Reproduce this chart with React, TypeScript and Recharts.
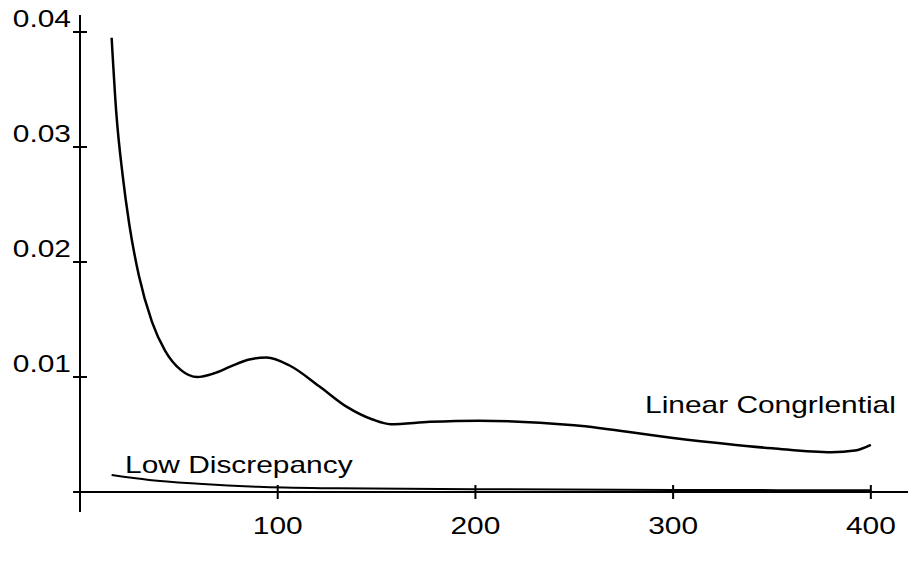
import React from 'react';
import { LineChart, Line, XAxis, YAxis, ReferenceLine, ReferenceDot } from 'recharts';

// Linear congruential error curve (x, y)
const lcgX = [16, 18.3, 21.6, 24.9, 29.8, 36.4, 43, 51.1, 59.3, 67.5, 76, 85, 94.4, 106, 121, 135, 148, 157, 177, 202, 250, 300, 350, 380, 392, 400];
const lcgY = [0.0395, 0.0331, 0.0275, 0.0233, 0.0188, 0.0148, 0.0123, 0.0106, 0.01, 0.0103, 0.0109, 0.0115, 0.0117, 0.011, 0.0092, 0.0074, 0.0063, 0.0059, 0.0061, 0.0062, 0.0058, 0.0047, 0.0038, 0.00345, 0.0036, 0.0041];

// Low discrepancy error curve
const ldX = [16, 35, 60, 90, 130, 200, 300, 400];
const ldY = [0.00148, 0.00105, 0.00072, 0.00045, 0.00032, 0.00024, 0.00018, 0.00015];

const xTicks = [100, 200, 300, 400];
const yTicks = [0.01, 0.02, 0.03, 0.04];

const lcgData = lcgX.map((x, i) => ({ x, y: lcgY[i] }));
const ldData = ldX.map((x, i) => ({ x, y: ldY[i] }));

const FONT = '"Liberation Sans", Arial, sans-serif';
const STRETCH = 1.3;

const XTick = ({ x, y, payload }: any) => (
  <g>
    <line x1={x} x2={x} y1={y - 7} y2={y + 7} stroke="#000" strokeWidth={2} />
    <text
      transform={`translate(${x},${y + 42}) scale(${STRETCH},1)`}
      textAnchor="middle"
      fontFamily={FONT}
      fontSize={23}
      fill="#000"
    >
      {payload.value}
    </text>
  </g>
);

const YTick = ({ x, y, payload }: any) => (
  <g>
    <line x1={x - 7} x2={x + 7} y1={y} y2={y} stroke="#000" strokeWidth={2} />
    <text
      transform={`translate(${x - 9},${y - 5}) scale(${STRETCH},1)`}
      textAnchor="end"
      fontFamily={FONT}
      fontSize={23}
      fill="#000"
    >
      {payload.value}
    </text>
  </g>
);

const Label = ({ cx, cy, children }: any) => (
  <text
    transform={`translate(${cx},${cy}) scale(${STRETCH},1)`}
    fontFamily={FONT}
    fontSize={23}
    fill="#000"
  >
    {children}
  </text>
);

export default function App() {
  return (
    <div style={{ position: 'absolute', left: 0, top: 0 }}>
      <LineChart width={908} height={567} margin={{ top: 15, right: 0, left: 0, bottom: 0 }}>
        <XAxis
          type="number"
          dataKey="x"
          domain={[0, 418.8]}
          ticks={xTicks}
          interval={0}
          axisLine={false}
          tickLine={false}
          tickSize={0}
          tickMargin={0}
          height={75}
          tick={<XTick />}
        />
        <YAxis
          type="number"
          dataKey="y"
          domain={[0, 0.04148]}
          ticks={yTicks}
          interval={0}
          axisLine={false}
          tickLine={false}
          tickSize={0}
          tickMargin={0}
          width={80}
          tick={<YTick />}
        />
        <ReferenceLine
          segment={[{ x: -3.5, y: 0 }, { x: 418.8, y: 0 }]}
          stroke="#000"
          strokeWidth={2}
          ifOverflow="visible"
        />
        <ReferenceLine
          segment={[{ x: 0, y: -0.00174 }, { x: 0, y: 0.04148 }]}
          stroke="#000"
          strokeWidth={2}
          ifOverflow="visible"
        />
        <Line
          data={lcgData}
          dataKey="y"
          type="monotone"
          stroke="#000"
          strokeWidth={2.5}
          dot={false}
          isAnimationActive={false}
        />
        <Line
          data={ldData}
          dataKey="y"
          type="monotone"
          stroke="#000"
          strokeWidth={2}
          dot={false}
          isAnimationActive={false}
        />
        <ReferenceDot
          x={285.8}
          y={0.00687}
          ifOverflow="visible"
          shape={(p: any) => <Label cx={p.cx} cy={p.cy}>Linear Congrlential</Label>}
        />
        <ReferenceDot
          x={22.8}
          y={0.00165}
          ifOverflow="visible"
          shape={(p: any) => <Label cx={p.cx} cy={p.cy}>Low Discrepancy</Label>}
        />
      </LineChart>
    </div>
  );
}
